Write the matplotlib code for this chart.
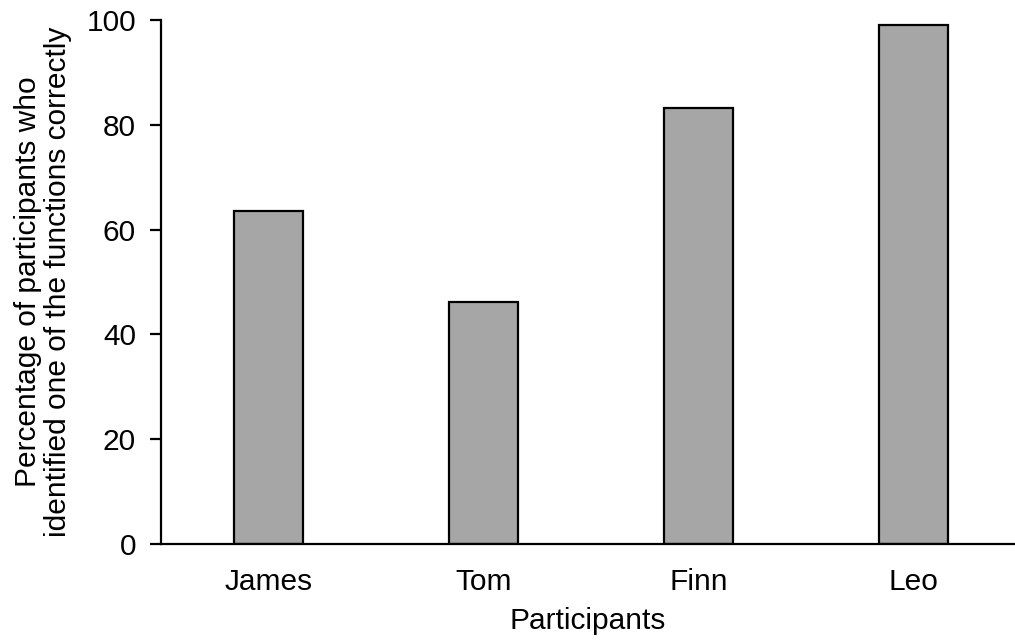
import numpy as np
import matplotlib.pyplot as plt

plt.rcParams['font.family'] = ['Liberation Sans', 'DejaVu Sans']

participants = ['James', 'Tom', 'Finn', 'Leo']
percent_correct = [63.5, 46.2, 83.3, 99.0]
y_ticks = [0, 20, 40, 60, 80, 100]

fig = plt.figure(figsize=(10.15, 6.43), dpi=100)
ax = fig.add_axes([161 / 1015, 1 - 544 / 643, 854 / 1015, 524 / 643])

x = np.arange(len(participants))
ax.bar(x, percent_correct, width=0.32, color='#a6a6a6', edgecolor='black', linewidth=1.6)

ax.set_xlim(-0.5, 3.472)
ax.set_ylim(0, 100)
ax.set_yticks(y_ticks)
ax.set_xticks(x)
ax.set_xticklabels(participants)

for side in ['top', 'right']:
    ax.spines[side].set_visible(False)
ax.spines['left'].set_linewidth(1.6)
ax.spines['bottom'].set_linewidth(1.6)

fs = 21.5
ax.tick_params(axis='y', length=8, width=1.6, labelsize=fs, pad=10)
ax.tick_params(axis='x', length=0, labelsize=fs, pad=17)

ax.set_xlabel('Participants', fontsize=fs, labelpad=8)
ax.set_ylabel('Percentage of participants who\nidentified one of the functions correctly',
              fontsize=fs, labelpad=10, linespacing=1.1)

fig.savefig('out.png', dpi=100)
